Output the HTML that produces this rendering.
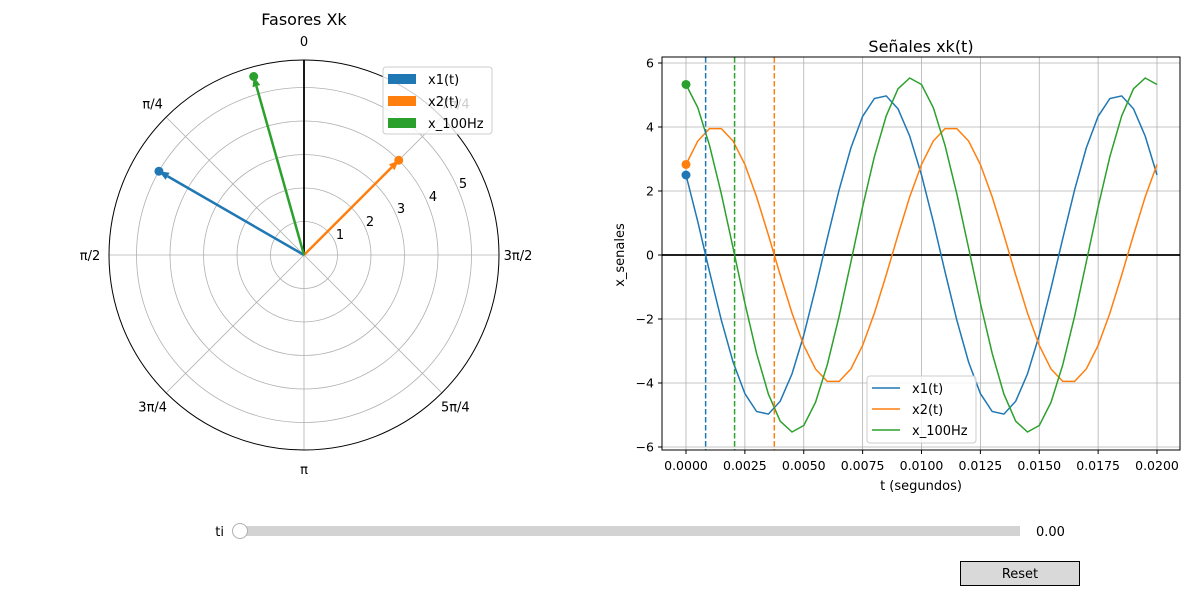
<!DOCTYPE html>
<html><head><meta charset="utf-8"><style>
html,body{margin:0;padding:0;background:#fff;}
svg{display:block;font-family:"DejaVu Sans","Liberation Sans",sans-serif;}
</style></head><body>
<svg id="s" width="1200" height="600" viewBox="0 0 1200 600" xmlns="http://www.w3.org/2000/svg">
<g id="g"></g>
</svg>
<script>
const g=document.getElementById('g');let h='';
const B='#1f77b4',O='#ff7f0e',G='#2ca02c';
// polar
const cx=304,cy=255,R=195,k=33.5;
for(let r=1;r<=5;r++)h+=`<circle cx="${cx}" cy="${cy}" r="${r*k}" fill="none" stroke="#b0b0b0" stroke-width="0.8"/>`;
for(let a=0;a<8;a++){const t=a*Math.PI/4;h+=`<line x1="${cx}" y1="${cy}" x2="${cx-R*Math.sin(t)}" y2="${cy-R*Math.cos(t)}" stroke="#b0b0b0" stroke-width="0.8"/>`;}
h+=`<circle cx="${cx}" cy="${cy}" r="${R}" fill="none" stroke="#000" stroke-width="1"/>`;
const tl=['0','π/4','π/2','3π/4','π','5π/4','3π/2','7π/4'];
for(let a=0;a<8;a++){const t=a*Math.PI/4,rr=R+19;h+=`<text x="${cx-rr*Math.sin(t)}" y="${cy-rr*Math.cos(t)+5}" font-size="13" text-anchor="middle">${tl[a]}</text>`;}
const rl=[[340,239],[370,226],[401,213],[433,201],[463,188]];
rl.forEach((p,i)=>h+=`<text x="${p[0]}" y="${p[1]}" font-size="13" text-anchor="middle">${i+1}</text>`);
h+=`<line x1="${cx}" y1="${cy}" x2="${cx}" y2="60" stroke="#000" stroke-width="1.8"/>`;
function vec(mag,ph,c){const r=mag*k,x=cx-r*Math.sin(ph),y=cy-r*Math.cos(ph);const ux=(x-cx)/r,uy=(y-cy)/r;const bx=x-ux*10,by=y-uy*10;
h+=`<line x1="${cx}" y1="${cy}" x2="${bx}" y2="${by}" stroke="${c}" stroke-width="2.5"/>`;
h+=`<polygon points="${x},${y} ${bx-uy*4},${by+ux*4} ${bx+uy*4},${by-ux*4}" fill="${c}"/>`;
h+=`<circle cx="${x}" cy="${y}" r="4.5" fill="${c}"/>`;}
vec(5,Math.PI/3,B);vec(4,-Math.PI/4,O);
const re=2.5+2.8284,im=4.3301-2.8284,A=Math.hypot(re,im),P=Math.atan2(im,re);
vec(A,P,G);
h+=`<text x="304" y="25" font-size="16" text-anchor="middle">Fasores Xk</text>`;
function legend(x,y){h+=`<rect x="${x}" y="${y}" width="109" height="67" rx="3" fill="#fff" fill-opacity="0.8" stroke="#ccc"/>`;}
legend(383,67);
[[B,'x1(t)'],[O,'x2(t)'],[G,'x_100Hz']].forEach((e,i)=>{const y=79+i*22;h+=`<rect x="388" y="${y-5}" width="28" height="10" fill="${e[0]}"/><text x="428" y="${y+5}" font-size="13">${e[1]}</text>`;});
// right axes
const X0=662,X1=1180,Y0=57,Y1=450;
const tx=t=>686+t*23550, ty=v=>255-v*32;
for(let i=0;i<=8;i++){const x=tx(i*0.0025);h+=`<line x1="${x}" y1="${Y0}" x2="${x}" y2="${Y1}" stroke="#b0b0b0" stroke-width="0.8"/><line x1="${x}" y1="${Y1}" x2="${x}" y2="${Y1+4}" stroke="#000"/><text x="${x}" y="${Y1+20}" font-size="12.5" text-anchor="middle">${(i*0.0025).toFixed(4)}</text>`;}
for(let v=-6;v<=6;v+=2){const y=ty(v);h+=`<line x1="${X0}" y1="${y}" x2="${X1}" y2="${y}" stroke="#b0b0b0" stroke-width="0.8"/><line x1="${X0-4}" y1="${y}" x2="${X0}" y2="${y}" stroke="#000"/><text x="${X0-8}" y="${y+4.5}" font-size="12.5" text-anchor="end">${v<0?'−'+(-v):v}</text>`;}
h+=`<line x1="${X0}" y1="255" x2="${X1}" y2="255" stroke="#000" stroke-width="1.8"/>`;
function sig(a,p,c){let pts=[];for(let i=0;i<=40;i++){const t=i*0.0005;pts.push(tx(t).toFixed(1)+','+ty(a*Math.cos(2*Math.PI*100*t+p)).toFixed(1));}
h+=`<polyline points="${pts.join(' ')}" fill="none" stroke="${c}" stroke-width="1.5"/>`;h+=`<circle cx="686" cy="${ty(a*Math.cos(p))}" r="4.5" fill="${c}"/>`;}
sig(5,Math.PI/3,B);sig(4,-Math.PI/4,O);sig(A,P,G);
[[B,(Math.PI/2-Math.PI/3)],[O,(Math.PI/2+Math.PI/4)],[G,(Math.PI/2-P)]].forEach(e=>{const x=tx(e[1]/(2*Math.PI*100));h+=`<line x1="${x}" y1="${Y0}" x2="${x}" y2="${Y1}" stroke="${e[0]}" stroke-width="1.5" stroke-dasharray="5.5,2.5"/>`;});
h+=`<rect x="${X0}" y="${Y0}" width="${X1-X0}" height="${Y1-Y0}" fill="none" stroke="#000" stroke-width="1"/>`;
h+=`<text x="921" y="52" font-size="16" text-anchor="middle">Señales xk(t)</text>`;
h+=`<text x="921" y="490" font-size="13" text-anchor="middle">t (segundos)</text>`;
h+=`<text transform="translate(624,255) rotate(-90)" font-size="13" text-anchor="middle">x_senales</text>`;
h+=`<rect x="867" y="376" width="109" height="67" rx="3" fill="#fff" fill-opacity="0.8" stroke="#ccc"/>`;
[[B,'x1(t)'],[O,'x2(t)'],[G,'x_100Hz']].forEach((e,i)=>{const y=388+i*21;h+=`<line x1="872" y1="${y}" x2="900" y2="${y}" stroke="${e[0]}" stroke-width="1.5"/><text x="912" y="${y+5}" font-size="13">${e[1]}</text>`;});
// slider
h+=`<text x="224" y="536" font-size="13" text-anchor="end">ti</text>`;
h+=`<rect x="240" y="526" width="780" height="10" fill="#d3d3d3"/>`;
h+=`<circle cx="240" cy="531" r="7.5" fill="#fff" stroke="#b0b0b0"/>`;
h+=`<text x="1036" y="536" font-size="13">0.00</text>`;
h+=`<rect x="960.5" y="561.5" width="119" height="24" fill="#d9d9d9" stroke="#000" stroke-width="1"/>`;
h+=`<text x="1020" y="578" font-size="13" text-anchor="middle">Reset</text>`;
g.innerHTML=h;
</script>
</body></html>
